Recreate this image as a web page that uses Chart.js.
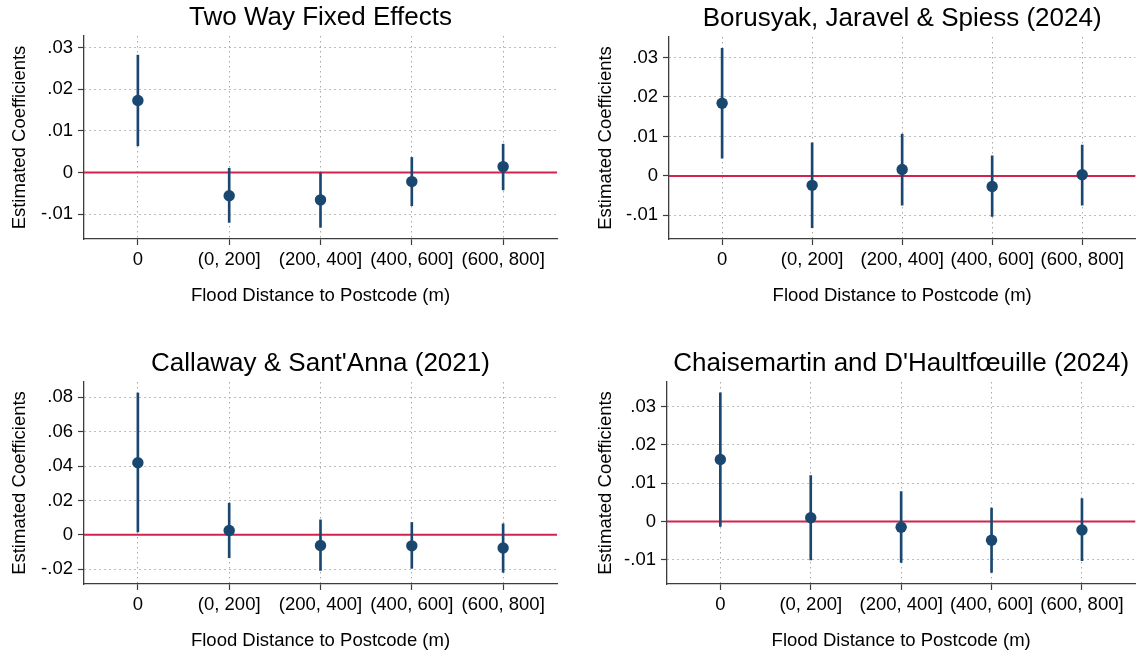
<!DOCTYPE html>
<html>
<head>
<meta charset="utf-8">
<title>Flood distance event estimates</title>
<script src="https://cdn.jsdelivr.net/npm/chart.js@4.4.1/dist/chart.umd.min.js"></script>
<style>
  html, body { margin: 0; padding: 0; background: #ffffff; }
  #grid { position: relative; width: 1141px; height: 657px; overflow: hidden; background: #ffffff; }
  .panel { position: absolute; }
</style>
</head>
<body>
<div id="grid">
  <div class="panel" style="left:0px;top:0px;width:570px;height:328px"><canvas id="twfe"></canvas></div>
  <div class="panel" style="left:570px;top:0px;width:571px;height:328px"><canvas id="bjs"></canvas></div>
  <div class="panel" style="left:0px;top:328px;width:570px;height:329px"><canvas id="cs"></canvas></div>
  <div class="panel" style="left:570px;top:328px;width:571px;height:329px"><canvas id="dcdh"></canvas></div>
</div>
<script>
// Distance bands (x axis categories)
const categories = ['0', '(0, 200]', '(200, 400]', '(400, 600]', '(600, 800]'];

// Two Way Fixed Effects
const twfeCoef = [0.0173, -0.0056, -0.0066, -0.0022, 0.0014];
const twfeLow  = [0.0064, -0.0120, -0.0132, -0.0080, -0.0042];
const twfeHigh = [0.0282, 0.0010, 0.0000, 0.0036, 0.0068];

// Borusyak, Jaravel & Spiess (2024)
const bjsCoef = [0.0184, -0.0024, 0.0016, -0.0027, 0.0003];
const bjsLow  = [0.0045, -0.0131, -0.0074, -0.0103, -0.0074];
const bjsHigh = [0.0323, 0.0084, 0.0106, 0.0051, 0.0078];

// Callaway & Sant'Anna (2021)
const csCoef = [0.0419, 0.0025, -0.0062, -0.0064, -0.0077];
const csLow  = [0.0017, -0.0133, -0.0207, -0.0195, -0.0218];
const csHigh = [0.0825, 0.0184, 0.0087, 0.0072, 0.0064];

// Chaisemartin and D'Haultfoeuille (2024)
const dcdhCoef = [0.0162, 0.0010, -0.0015, -0.0049, -0.0022];
const dcdhLow  = [-0.0013, -0.0100, -0.0107, -0.0133, -0.0102];
const dcdhHigh = [0.0336, 0.0120, 0.0078, 0.0035, 0.0060];

// y axis ranges and tick steps per panel
const twfeRange = [-0.0160, 0.0328, 0.01];
const bjsRange  = [-0.0160, 0.0352, 0.01];
const csRange   = [-0.0286, 0.0889, 0.02];
const dcdhRange = [-0.0163, 0.0364, 0.01];

// reference line
const zeroLine = 0;

const FONT = '"Liberation Sans", Arial, Helvetica, sans-serif';
const NAVY = '#1a476f';
const RED = '#d2234d';
const AXIS = '#3c3c3c';
const GRID = '#a8a8a8';

Chart.defaults.font.family = FONT;
Chart.defaults.color = '#000000';

function stataLabel(v) {
  if (Math.abs(v) < 1e-9) return '0';
  const s = v.toFixed(2);
  return s.replace(/^(-?)0\./, '$1.');
}

// draws the panel title over the plot region and the horizontal zero line
const panelDecor = {
  id: 'panelDecor',
  beforeDatasetsDraw(chart) {
    const { ctx, chartArea, scales } = chart;
    const y = scales.y.getPixelForValue(zeroLine);
    ctx.save();
    ctx.strokeStyle = RED;
    ctx.lineWidth = 2;
    ctx.beginPath();
    ctx.moveTo(chartArea.left, y);
    ctx.lineTo(chartArea.right, y);
    ctx.stroke();
    ctx.restore();
  },
  afterDraw(chart) {
    const { ctx, chartArea } = chart;
    const text = chart.options.plugins.panelDecor.title;
    ctx.save();
    ctx.font = '26px ' + FONT;
    ctx.fillStyle = '#000000';
    ctx.textAlign = 'center';
    ctx.textBaseline = 'middle';
    ctx.fillText(text, (chartArea.left + chartArea.right) / 2, chartArea.top - 18);
    ctx.restore();
  }
};

function panel(id, title, coef, low, high, range, box) {
  const points = coef.map((v, i) => ({ x: i, y: v }));
  const intervals = low.map((v, i) => ({ x: i, y: [v, high[i]] }));
  return new Chart(document.getElementById(id), {
    type: 'scatter',
    data: {
      datasets: [
        {
          type: 'bar',
          data: intervals,
          backgroundColor: NAVY,
          borderWidth: 0,
          barThickness: 2,
          order: 2
        },
        {
          type: 'scatter',
          data: points,
          pointRadius: 5.7,
          pointHoverRadius: 5.7,
          pointBackgroundColor: NAVY,
          pointBorderWidth: 0,
          showLine: false,
          order: 1
        }
      ]
    },
    options: {
      responsive: true,
      maintainAspectRatio: false,
      animation: false,
      events: [],
      layout: { padding: { left: box.padLeft, right: box.padRight, top: box.padTop, bottom: box.padBottom } },
      plugins: {
        legend: { display: false },
        tooltip: { enabled: false },
        title: { display: false },
        panelDecor: { title: title }
      },
      scales: {
        x: {
          type: 'linear',
          min: -0.59,
          max: categories.length - 1 + 0.59,
          offset: false,
          afterFit(s) { s.height = 73; },
          grid: { offset: false, color: GRID, lineWidth: 1, tickColor: AXIS, tickLength: 6, tickWidth: 1.2 },
          border: { display: true, color: AXIS, width: 1.3, dash: [1.5, 3.5] },
          ticks: {
            stepSize: 1,
            includeBounds: false,
            autoSkip: false,
            maxRotation: 0,
            minRotation: 0,
            padding: 4,
            color: '#000000',
            font: { size: 18.5 },
            callback: (v) => (Number.isInteger(v) && categories[v] !== undefined) ? categories[v] : ''
          },
          title: {
            display: true,
            text: 'Flood Distance to Postcode (m)',
            color: '#000000',
            font: { size: 18.5 },
            padding: { top: 4, bottom: 4.5 }
          }
        },
        y: {
          type: 'linear',
          min: range[0],
          max: range[1],
          beginAtZero: false,
          afterFit(s) { s.width = box.yWidth; },
          grid: { color: GRID, lineWidth: 1, tickColor: AXIS, tickLength: 6, tickWidth: 1.2 },
          border: { display: true, color: AXIS, width: 1.3, dash: [1.5, 3.5] },
          ticks: {
            stepSize: range[2],
            includeBounds: false,
            padding: 5,
            color: '#000000',
            font: { size: 18.5 },
            callback: (v) => stataLabel(v)
          },
          title: {
            display: true,
            text: 'Estimated Coefficients',
            color: '#000000',
            font: { size: 18.5 },
            padding: { top: 9, bottom: 0 }
          }
        }
      }
    },
    plugins: [panelDecor]
  });
}

panel('twfe', 'Two Way Fixed Effects', twfeCoef, twfeLow, twfeHigh, twfeRange,
      { padLeft: 0, yWidth: 84, padRight: 13, padTop: 36, padBottom: 16 });
panel('bjs', 'Borusyak, Jaravel & Spiess (2024)', bjsCoef, bjsLow, bjsHigh, bjsRange,
      { padLeft: 16, yWidth: 83, padRight: 0, padTop: 37, padBottom: 16 });
panel('cs', "Callaway & Sant'Anna (2021)", csCoef, csLow, csHigh, csRange,
      { padLeft: 0, yWidth: 84, padRight: 13, padTop: 54, padBottom: 0 });
panel('dcdh', "Chaisemartin and D'Haultf\u0153uille (2024)", dcdhCoef, dcdhLow, dcdhHigh, dcdhRange,
      { padLeft: 16, yWidth: 81, padRight: 0, padTop: 54, padBottom: 0 });
</script>
</body>
</html>
